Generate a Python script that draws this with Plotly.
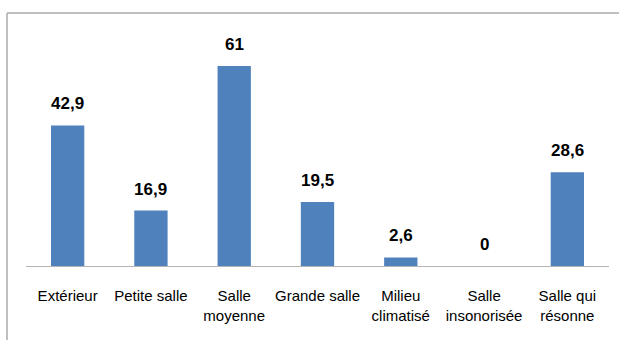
import plotly.graph_objects as go

# Lieux d'écoute et pourcentages associés
categories = [
    "Extérieur",
    "Petite salle",
    "Salle<br>moyenne",
    "Grande salle",
    "Milieu<br>climatisé",
    "Salle<br>insonorisée",
    "Salle qui<br>résonne",
]
values = [42.9, 16.9, 61, 19.5, 2.6, 0, 28.6]

FONT = "Liberation Sans, Arial, sans-serif"
BAR_COLOR = "#4F81BD"

W, H = 619, 340
M_L, M_R, M_T, M_B = 26, 10, 30, 74
plot_w = W - M_L - M_R
plot_h = H - M_T - M_B


def fmt(v):
    return f"{v:g}".replace(".", ",")


fig = go.Figure(
    go.Bar(
        x=categories,
        y=values,
        marker=dict(color=BAR_COLOR, line=dict(width=0)),
        hoverinfo="skip",
    )
)

# Étiquettes de valeurs au-dessus des barres
for c, v in zip(categories, values):
    fig.add_annotation(
        x=c,
        y=v,
        text=f"<b>{fmt(v)}</b>",
        showarrow=False,
        yanchor="bottom",
        yshift=10,
        font=dict(family=FONT, size=17, color="#000000"),
    )

# Cadre gris (bords haut et gauche)
px_x = lambda p: (p - M_L) / plot_w
px_y = lambda p: (H - M_B - p) / plot_h
frame = dict(color="#ababab", width=1.5)
fig.add_shape(type="line", xref="paper", yref="paper",
              x0=px_x(7), x1=px_x(W + 5), y0=px_y(13), y1=px_y(13), line=frame)
fig.add_shape(type="line", xref="paper", yref="paper",
              x0=px_x(7), x1=px_x(7), y0=px_y(13), y1=px_y(H + 5), line=frame)

fig.update_layout(
    width=W,
    height=H,
    margin=dict(l=M_L, r=M_R, t=M_T, b=M_B, autoexpand=False),
    paper_bgcolor="white",
    plot_bgcolor="white",
    bargap=0.6,
    showlegend=False,
    font=dict(family=FONT, size=15, color="#000000"),
    xaxis=dict(
        showline=True,
        linecolor="#b3b3b3",
        linewidth=1.3,
        ticks="",
        showgrid=False,
        tickangle=0,
        automargin=False,
        tickfont=dict(family=FONT, size=15, color="#000000"),
        ticklabelstandoff=16,
    ),
    yaxis=dict(
        range=[0, 72],
        visible=False,
        showgrid=False,
        zeroline=False,
    ),
)

fig.write_html("out.html")
